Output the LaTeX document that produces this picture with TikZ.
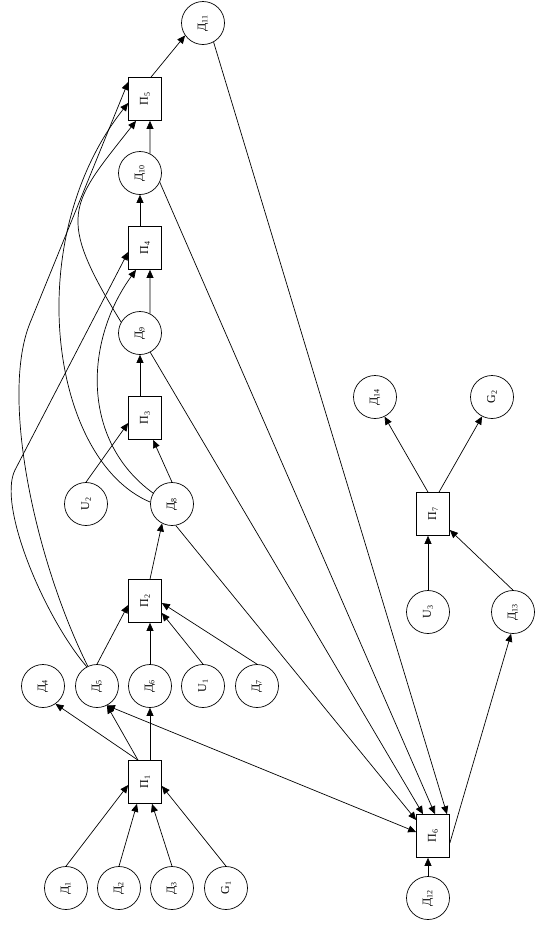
\documentclass[tikz,border=0pt]{standalone}
\usepackage{fontspec}
\setmainfont{Liberation Serif}
\usepackage{graphicx}
\usetikzlibrary{arrows.meta}
\newcommand{\lbl}[2]{\rotatebox{90}{#1\textsubscript{#2}}}

\begin{document}
\begin{tikzpicture}[x=1pt, y=-1pt, line width=0.7pt, font=\fontsize{12}{14}\selectfont,
    >={Triangle[length=8pt,width=7pt]},
    dat/.style={circle, draw, minimum size=43pt, inner sep=0pt},
    proc/.style={rectangle, draw, minimum width=33pt, minimum height=43pt, inner sep=0pt}]
  \useasboundingbox (0,0) rectangle (539,927);

  % Data and sources
  \foreach \n/\l/\i/\x/\y in {d1/Д/1/66/888, d2/Д/2/119/888, d3/Д/3/172/888, g1/G/1/226/888,
      d4/Д/4/43/686, d5/Д/5/97/686, d6/Д/6/150/686, u1/U/1/203/686, d7/Д/7/257/686,
      u2/U/2/86/504, d8/Д/8/172/504, d9/Д/9/140/333, d10/Д/10/140/173, d11/Д/11/203/23,
      d14/Д/14/375/397, g2/G/2/492/397, u3/U/3/428/612, d13/Д/13/513/612, d12/Д/12/428/898}
    \node[dat] (\n) at (\x,\y) {\lbl{\l}{\i}};

  % Processes
  \foreach \n/\i/\x/\y in {p1/1/145/782, p2/2/145/601, p3/3/145/418, p4/4/145/248,
      p5/5/145/99, p6/6/433/836, p7/7/433/514}
    \node[proc] (\n) at (\x,\y) {\lbl{П}{\i}};

  % П1
  \draw[->] (d1.north) -- ([yshift=-3pt]p1.west);
  \draw[->] (d2.north) -- ([xshift=-8pt]p1.south);
  \draw[->] (d3.north) -- ([xshift=7pt]p1.south);
  \draw[->] (g1.north) -- ([yshift=-4pt]p1.east);
  \draw[->] ([xshift=-7pt]p1.north) -- (d4.-55);
  \draw[->] ([xshift=-7pt]p1.north) -- (d5.-63);
  \draw[->] ([xshift=5pt]p1.north) -- (d6.south);

  % П2
  \draw[->] (d5.north) -- ([yshift=-4pt]p2.west);
  \draw[->] (d6.north) -- ([xshift=5pt]p2.south);
  \draw[->] (u1.north) -- ([yshift=-12pt]p2.east);
  \draw[->] (d7.north) -- ([yshift=-2pt]p2.east);
  \draw[->] ([xshift=5pt]p2.north) -- (d8.-117);

  % П3
  \draw[->] (u2.north) -- ([yshift=-5pt]p3.west);
  \draw[->] (d8.north) -- ([xshift=8pt]p3.south);
  \draw[->] ([xshift=-5pt]p3.north) -- (d9.south);

  % П4
  \draw[->] (d9.63) -- ([xshift=5pt]p4.south);
  \draw[->] ([xshift=-5pt]p4.north) -- (d10.south);
  \draw[->] (d5.118) .. controls (45,618) and (-3,506) .. (15,470) -- ([yshift=-4pt]p4.west);
  \draw[->] (d8.150) .. controls (80,440) and (85,340) .. ([xshift=-9pt]p4.south);

  % П5
  \draw[->] (d10.63) -- ([xshift=5pt]p5.south);
  \draw[->] (d5.115) .. controls (35,560) and (0,397) .. (30,323) -- ([yshift=17pt]p5.west);
  \draw[->] (d8.175) .. controls (50,460) and (20,240) .. ([yshift=-4pt]p5.west);
  \draw[->] (d9.150) .. controls (55,215) and (70,205) .. ([xshift=-9pt]p5.south);
  \draw[->] ([xshift=6pt]p5.north) -- (d11.-145);

  % П6
  \draw[<->] (d5.-63) -- ([yshift=4pt]p6.west);
  \draw[->] (d8.-80) -- ([yshift=16pt]p6.west);
  \draw[->] (d9.-62) -- ([xshift=-10pt]p6.north);
  \draw[->] (d10.-25) -- ([xshift=2pt]p6.north);
  \draw[->] (d11.-61) -- ([xshift=14pt]p6.north);
  \draw[->] (d12.north) -- ([xshift=-5pt]p6.south);
  \draw[->] ([yshift=-7pt]p6.east) -- (d13.-95);

  % П7
  \draw[->] (u3.north) -- ([xshift=-5pt]p7.south);
  \draw[->] (d13.north) -- ([yshift=-16pt]p7.east);
  \draw[->] ([xshift=-5pt]p7.north) -- (d14.-64);
  \draw[->] ([xshift=6pt]p7.north) -- (g2.-117);
\end{tikzpicture}
\end{document}
